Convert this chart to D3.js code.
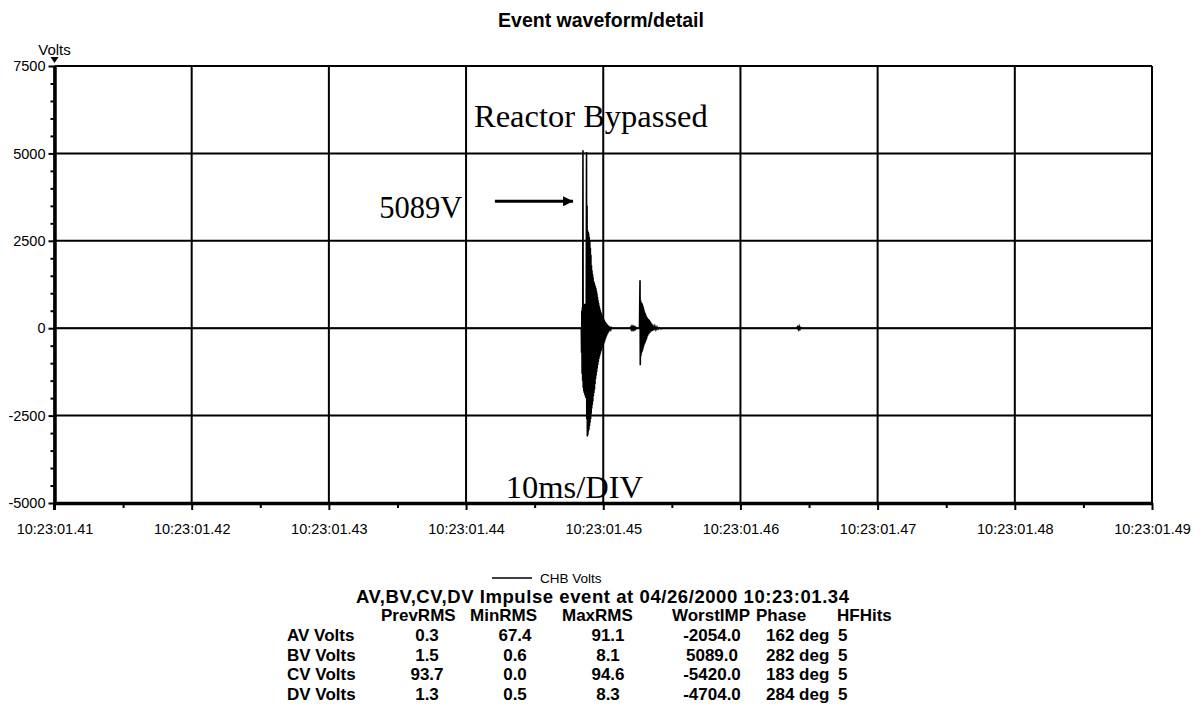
<!DOCTYPE html>
<html>
<head>
<meta charset="utf-8">
<script src="https://cdn.jsdelivr.net/npm/d3@7"></script>
<style>
  html, body { margin: 0; padding: 0; background: #fff; }
  svg { display: block; }
  .sans { font-family: "Liberation Sans", Arial, sans-serif; }
  .serif { font-family: "Liberation Serif", "Times New Roman", serif; }
</style>
</head>
<body>
<svg id="chart" width="1202" height="712"></svg>
<script>
// Time axis: milliseconds after 10:23:01.41
const timeTicksMs = [0, 10, 20, 30, 40, 50, 60, 70, 80];
const timeTickLabels = ["10:23:01.41", "10:23:01.42", "10:23:01.43", "10:23:01.44",
  "10:23:01.45", "10:23:01.46", "10:23:01.47", "10:23:01.48", "10:23:01.49"];
const minorTimeTicksMs = [5, 15, 25, 35, 45, 55, 65, 75];
const voltTicks = [-5000, -2500, 0, 2500, 5000, 7500];
const minorVoltTicks = [-4500, -4000, -3500, -3000, -2000, -1500, -1000, -500,
  500, 1000, 1500, 2000, 3000, 3500, 4000, 4500, 5500, 6000, 6500, 7000];

// CHB Volts trace: [ms, volts]
const chbTrace = [
  [0, 0], [38.40, 0],
  [38.42, -700], [38.44, 500], [38.46, -1300], [38.48, 600], [38.50, -1500], [38.52, 5089],
  [38.54, -1700], [38.56, 650], [38.58, -1800], [38.60, 700], [38.62, -1850], [38.64, 650],
  [38.66, -1900], [38.68, 700], [38.70, -1950], [38.72, 650], [38.74, -2000], [38.76, 700],
  [38.78, 5040], [38.80, -2600], [38.82, 3500], [38.84, -3100], [38.86, 2800], [38.88, -3050],
  [38.90, 2750], [38.92, -2950], [38.94, 2700], [38.96, -2900], [38.98, 2600], [39.00, -2800],
  [39.02, 2500], [39.04, -2700], [39.06, 2300], [39.08, -2600], [39.10, 2100], [39.12, -2450],
  [39.14, 1800], [39.16, -2300], [39.18, 1650], [39.20, -2200], [39.22, 1550], [39.24, -2100],
  [39.26, 1450], [39.28, -1950], [39.30, 1350], [39.32, -1850], [39.34, 1300], [39.36, -1750],
  [39.38, 1250], [39.40, -1600], [39.42, 1200], [39.44, -1450], [39.46, 1150], [39.48, -1350],
  [39.50, 1080], [39.52, -1250], [39.54, 1000], [39.56, -1150], [39.58, 900], [39.60, -1050],
  [39.62, 800], [39.64, -960], [39.66, 720], [39.68, -880], [39.70, 640], [39.72, -820],
  [39.74, 580], [39.76, -760], [39.78, 520], [39.80, -700], [39.82, 470], [39.84, -650],
  [39.86, 420], [39.88, -600], [39.90, 380], [39.92, -560], [39.94, 340], [39.96, -520],
  [39.98, 300], [40.00, -480], [40.02, 270], [40.04, -440], [40.06, 240], [40.08, -400],
  [40.10, 210], [40.12, -350], [40.14, 180], [40.16, -300], [40.18, 160], [40.20, -260],
  [40.22, 140], [40.24, -220], [40.26, 120], [40.28, -180], [40.30, 100], [40.32, -150],
  [40.34, 85], [40.36, -120], [40.38, 70], [40.40, -100], [40.44, 55], [40.48, -60],
  [40.52, 40], [40.56, -30], [40.60, 15], [40.64, 0],
  [41.96, 0], [42.00, 25], [42.04, -30], [42.08, 30], [42.12, -25], [42.16, 30], [42.20, -30],
  [42.24, 25], [42.28, -25], [42.32, 20], [42.36, -20], [42.40, 15], [42.44, 0], [42.64, 0],
  [42.68, 1370], [42.70, -1060], [42.72, 800], [42.74, -800], [42.76, 750], [42.78, -720],
  [42.80, 720], [42.82, -680], [42.84, 700], [42.86, -640], [42.88, 650], [42.90, -580],
  [42.92, 600], [42.94, -520], [42.96, 540], [42.98, -470], [43.00, 480], [43.02, -440],
  [43.04, 440], [43.06, -400], [43.08, 400], [43.10, -360], [43.12, 360], [43.14, -320],
  [43.16, 330], [43.18, -270], [43.20, 300], [43.24, -220], [43.28, 270], [43.32, -170],
  [43.36, 240], [43.40, -130], [43.44, 190], [43.48, -100], [43.52, 140], [43.56, -80],
  [43.60, 100], [43.68, -60], [43.76, 60], [43.84, -40], [43.92, 35], [44.00, -25],
  [44.10, 15], [44.20, -10], [44.35, 0],
  [54.10, 0], [54.16, 40], [54.22, -30], [54.28, 50], [54.34, -30], [54.40, 20], [54.46, 0],
  [80, 0]
];

// Summary table
const tableTitle = "AV,BV,CV,DV Impulse event at 04/26/2000 10:23:01.34";
const tableHeaders = ["PrevRMS", "MinRMS", "MaxRMS", "WorstIMP", "Phase", "HFHits"];
const channelNames = ["AV Volts", "BV Volts", "CV Volts", "DV Volts"];
const prevRms = ["0.3", "1.5", "93.7", "1.3"];
const minRms = ["67.4", "0.6", "0.0", "0.5"];
const maxRms = ["91.1", "8.1", "94.6", "8.3"];
const worstImp = ["-2054.0", "5089.0", "-5420.0", "-4704.0"];
const phaseDeg = ["162 deg", "282 deg", "183 deg", "284 deg"];
const hfHits = ["5", "5", "5", "5"];

const svg = d3.select("#chart");
svg.append("rect").attr("width", 1202).attr("height", 712).attr("fill", "#fff");

const x = d3.scaleLinear().domain([0, 80]).range([54.5, 1152]);
const y = d3.scaleLinear().domain([-5000, 7500]).range([503, 66]);

// Title
svg.append("text").attr("class", "sans")
  .attr("x", 601).attr("y", 27).attr("text-anchor", "middle")
  .attr("font-size", 19.5).attr("font-weight", "bold").text("Event waveform/detail");

// Grid
const grid = svg.append("g").attr("stroke", "#000").attr("stroke-width", 2);
grid.selectAll("line.v").data(timeTicksMs).join("line").attr("class", "v")
  .attr("x1", d => x(d)).attr("x2", d => x(d)).attr("y1", y(7500)).attr("y2", y(-5000));
grid.selectAll("line.h").data(voltTicks).join("line").attr("class", "h")
  .attr("x1", x(0)).attr("x2", x(80)).attr("y1", d => y(d)).attr("y2", d => y(d));

// Axes
const xAxis = svg.append("g").attr("class", "sans")
  .attr("transform", `translate(0,${y(-5000)})`)
  .call(d3.axisBottom(x).tickValues(timeTicksMs).tickSize(7).tickSizeOuter(0)
    .tickFormat((d, i) => timeTickLabels[i]));
xAxis.select(".domain").attr("stroke-width", 3.5);
xAxis.selectAll(".tick line").attr("stroke-width", 2);
xAxis.selectAll(".tick text").attr("font-size", 14.5).attr("dy", "1.45em").attr("fill", "#000");

const xMinor = svg.append("g").attr("transform", `translate(0,${y(-5000)})`)
  .call(d3.axisBottom(x).tickValues(minorTimeTicksMs).tickSize(5).tickSizeOuter(0).tickFormat(""));
xMinor.select(".domain").remove();
xMinor.selectAll(".tick line").attr("stroke-width", 2);

const yAxis = svg.append("g").attr("class", "sans")
  .attr("transform", `translate(${x(0)},0)`)
  .call(d3.axisLeft(y).tickValues(voltTicks).tickSize(6).tickSizeOuter(0)
    .tickFormat(d => String(d)));
yAxis.select(".domain").attr("stroke-width", 3.5);
yAxis.selectAll(".tick line").attr("stroke-width", 2);
yAxis.selectAll(".tick text").attr("font-size", 14.5).attr("fill", "#000").attr("x", -9);

const yMinor = svg.append("g").attr("transform", `translate(${x(0)},0)`)
  .call(d3.axisLeft(y).tickValues(minorVoltTicks).tickSize(4).tickSizeOuter(0).tickFormat(""));
yMinor.select(".domain").remove();
yMinor.selectAll(".tick line").attr("stroke-width", 2);

// Axis extension below the bottom axis and the unit label
svg.append("line").attr("x1", x(0)).attr("x2", x(0)).attr("y1", y(-5000)).attr("y2", y(-5000) + 7)
  .attr("stroke", "#000").attr("stroke-width", 3);
svg.append("text").attr("class", "sans").attr("x", x(0)).attr("y", 55).attr("text-anchor", "middle")
  .attr("font-size", 15).text("Volts");
svg.append("path")
  .attr("d", `M${x(0) - 4},${y(7500) - 9} L${x(0) + 4},${y(7500) - 9} L${x(0)},${y(7500) - 3} Z`)
  .attr("fill", "#000");

// Waveform
const line = d3.line().x(d => x(d[0])).y(d => y(d[1]));
svg.append("path").datum(chbTrace).attr("d", line)
  .attr("fill", "none").attr("stroke", "#000").attr("stroke-width", 1.6)
  .attr("stroke-linejoin", "miter");

// Annotations
svg.append("text").attr("class", "serif").attr("x", x(39.1)).attr("y", y(5750))
  .attr("text-anchor", "middle").attr("font-size", 32.5).text("Reactor Bypassed");
svg.append("text").attr("class", "serif").attr("x", x(26.7)).attr("y", y(3150))
  .attr("text-anchor", "middle").attr("font-size", 30.5).text("5089V");
svg.append("text").attr("class", "serif").attr("x", x(37.9)).attr("y", y(-4860))
  .attr("text-anchor", "middle").attr("font-size", 32.5).text("10ms/DIV");

svg.append("defs").append("marker").attr("id", "head")
  .attr("viewBox", "0 0 10 10").attr("refX", 10).attr("refY", 5)
  .attr("markerUnits", "userSpaceOnUse").attr("markerWidth", 12).attr("markerHeight", 10)
  .attr("orient", "auto")
  .append("path").attr("d", "M0,0 L10,5 L0,10 Z").attr("fill", "#000");
svg.append("line")
  .attr("x1", x(32.1)).attr("x2", x(37.8)).attr("y1", y(3630)).attr("y2", y(3630))
  .attr("stroke", "#000").attr("stroke-width", 3).attr("marker-end", "url(#head)");

// Legend
svg.append("line").attr("x1", 492).attr("x2", 532).attr("y1", 578).attr("y2", 578)
  .attr("stroke", "#000").attr("stroke-width", 1.5);
svg.append("text").attr("class", "sans").attr("x", 540).attr("y", 583)
  .attr("font-size", 13.5).text("CHB Volts");

// Table
const tbl = svg.append("g").attr("class", "sans").attr("font-weight", "bold").attr("font-size", 17);
tbl.append("text").attr("x", 356).attr("y", 603).attr("font-size", 18.5)
  .attr("textLength", 493).attr("lengthAdjust", "spacing").text(tableTitle);
const headerX = [381, 470, 562, 672, 756, 837];
tbl.selectAll("text.hdr").data(tableHeaders).join("text").attr("class", "hdr")
  .attr("x", (d, i) => headerX[i]).attr("y", 621).text(d => d);

const rowY = [641, 661, 680, 700];
const centered = [[prevRms, 427], [minRms, 515], [maxRms, 608], [worstImp, 712]];
tbl.selectAll("text.name").data(channelNames).join("text").attr("class", "name")
  .attr("x", 287).attr("y", (d, i) => rowY[i]).text(d => d);
centered.forEach(([col, cx]) => {
  tbl.append("g").selectAll("text").data(col).join("text")
    .attr("x", cx).attr("y", (d, i) => rowY[i]).attr("text-anchor", "middle").text(d => d);
});
tbl.append("g").selectAll("text").data(phaseDeg).join("text")
  .attr("x", 766).attr("y", (d, i) => rowY[i]).text(d => d);
tbl.append("g").selectAll("text").data(hfHits).join("text")
  .attr("x", 838).attr("y", (d, i) => rowY[i]).text(d => d);
</script>
</body>
</html>
